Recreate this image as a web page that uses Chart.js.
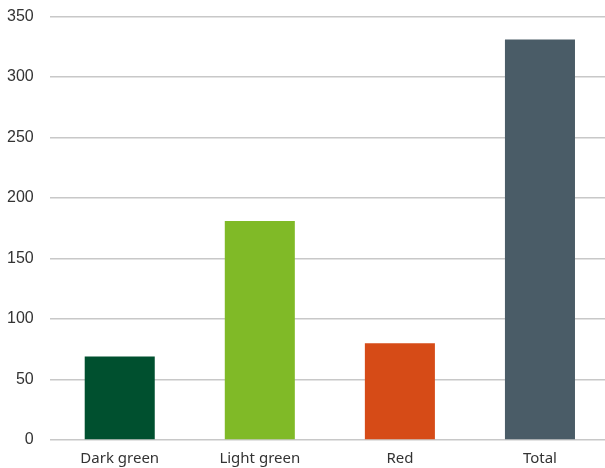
<!DOCTYPE html>
<html>
<head>
<meta charset="utf-8">
<script src="https://cdn.jsdelivr.net/npm/chart.js@4"></script>
<style>
  html, body { margin: 0; padding: 0; background: #fff; overflow: hidden; }
  #wrap { position: absolute; left: -13px; top: -9px; width: 623px; height: 479px; }
</style>
</head>
<body>
<div id="wrap"><canvas id="barChart"></canvas></div>
<script>
/* data */
const categories = ['Dark green', 'Light green', 'Red', 'Total'];
const values = [69, 181, 80, 331];
const barColors = ['#00502f', '#80ba27', '#d64b17', '#4a5c67'];
const yTicks = [0, 50, 100, 150, 200, 250, 300, 350];

const barChart = document.getElementById('barChart');
new Chart(barChart, {
    type: 'bar',
    data: {
        labels: categories,
        datasets: [{
            data: values,
            backgroundColor: barColors,
            barPercentage: 0.5,
            categoryPercentage: 1
        }]
    },
    options: {
        responsive: true,
        maintainAspectRatio: false,
        animation: false,
        layout: { padding: { top: 0, left: 4, right: 0, bottom: 0 } },
        plugins: { legend: { display: false }, tooltip: { enabled: false } },
        scales: {
            x: {
                grid: { display: false },
                border: { display: false },
                ticks: { color: '#333', font: { family: 'Noto Sans', size: 15 }, padding: 2 }
            },
            y: {
                min: 0,
                max: 350,
                afterBuildTicks: axis => { axis.ticks = yTicks.map(v => ({ value: v })); },
                grid: { color: '#c8c8c8', lineWidth: 1.5, drawTicks: false },
                border: { display: false },
                ticks: { color: '#333', font: { family: 'Liberation Sans', size: 16 }, padding: 16 }
            }
        }
    }
});
</script>
</body>
</html>
